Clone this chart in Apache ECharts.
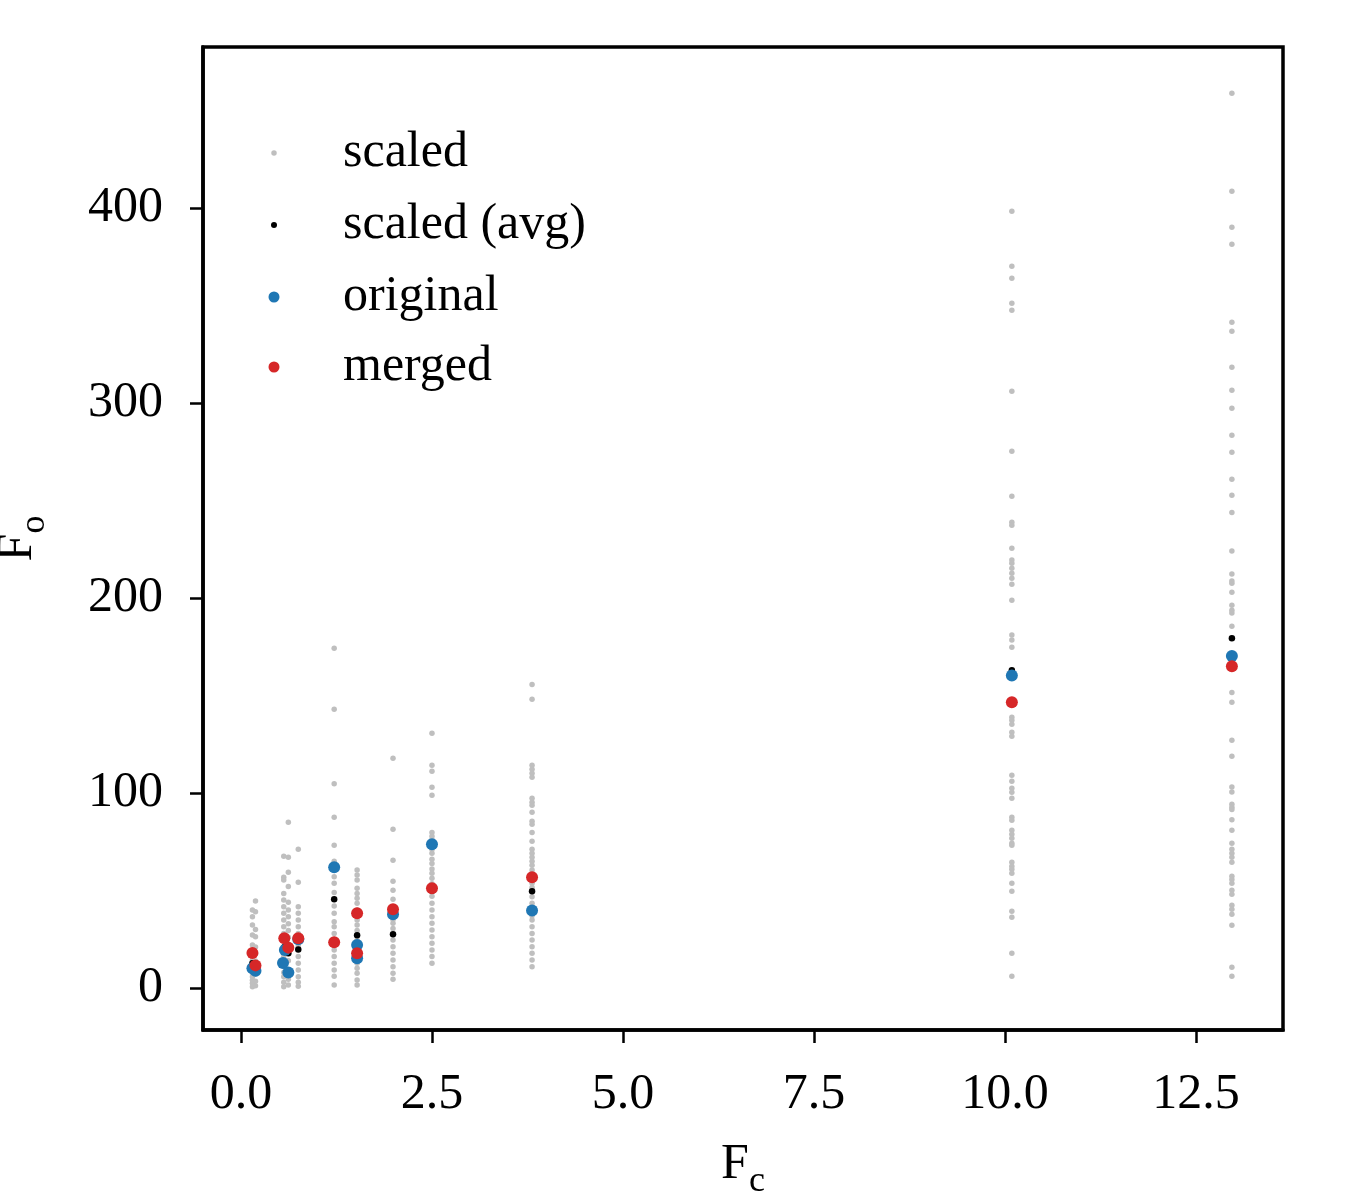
<!DOCTYPE html>
<html>
<head>
<meta charset="utf-8">
<title>Fo vs Fc</title>
<script src="https://cdn.jsdelivr.net/npm/echarts@6/dist/echarts.min.js"></script>
<style>
  html, body { margin: 0; padding: 0; background: #fff; }
  #chart { width: 1350px; height: 1200px; }
</style>
</head>
<body>
<div id="chart"></div>
<script>
// ---- data ----
// scaled: one Fc value per column, Fo values of that column
const scaledFc = [0.15, 0.19, 0.56, 0.62, 0.75, 1.22, 1.52, 1.99, 2.50, 3.81, 10.09, 12.97];
const scaledFo = [
    [40.0, 36.6, 32.3, 27.2, 22.1, 19.5, 16.1, 12.7, 9.2, 5.8, 2.4, 0.7, 14.5, 7.5, 4.0],
    [44.6, 39.1, 30.0, 26.3, 21.0, 17.5, 13.8, 10.5, 7.0, 3.5, 1.2],
    [67.5, 56.8, 55.4, 48.5, 45.1, 41.7, 38.3, 34.9, 31.4, 28.0, 24.6, 21.2, 19.0, 16.1, 13.0, 10.9, 8.0, 5.8, 3.0, 0.7],
    [85.0, 67.0, 59.3, 52.0, 44.0, 40.0, 36.5, 33.0, 29.5, 26.0, 22.5, 18.5, 14.0, 9.5, 4.5, 1.5],
    [71.1, 54.2, 41.7, 38.3, 34.9, 31.4, 28.0, 24.0, 21.5, 16.1, 12.7, 9.2, 5.8, 3.0, 0.9],
    [174.2, 142.9, 104.8, 87.5, 73.2, 65.0, 57.1, 53.7, 49.0, 42.0, 38.3, 34.0, 31.4, 28.0, 25.0, 19.5, 16.1, 12.7, 9.2, 6.0, 1.5],
    [60.5, 57.9, 55.4, 51.1, 48.5, 46.0, 43.4, 40.0, 34.9, 32.3, 29.5, 24.5, 20.0, 12.7, 10.1, 7.5, 4.1, 1.5],
    [117.8, 81.4, 65.5, 54.7, 50.1, 45.5, 41.4, 35.0, 33.2, 30.5, 24.6, 21.2, 17.8, 14.4, 10.9, 7.5, 4.5],
    [130.6, 114.2, 111.1, 102.9, 98.8, 79.8, 77.8, 76.0, 71.0, 69.1, 66.0, 63.9, 61.0, 58.8, 56.3, 53.5, 47.0, 43.4, 40.0, 36.6, 33.2, 29.7, 26.3, 22.9, 19.5, 16.1, 12.7],
    [155.7, 148.1, 114.2, 112.2, 110.1, 108.1, 97.3, 95.2, 93.7, 90.1, 85.5, 84.0, 79.8, 75.2, 71.1, 69.1, 67.0, 65.0, 62.9, 60.5, 58.5, 53.7, 51.5, 46.8, 43.4, 37.0, 34.9, 31.4, 28.0, 24.6, 21.2, 17.8, 14.4, 10.9],
    [398.3, 370.1, 364.0, 351.1, 347.5, 306.0, 275.2, 252.2, 238.8, 237.3, 225.5, 219.5, 217.8, 215.2, 212.7, 210.1, 207.0, 198.9, 181.0, 178.5, 174.7, 138.8, 137.3, 135.2, 131.1, 129.1, 109.1, 106.0, 102.4, 100.4, 97.3, 87.5, 86.0, 80.9, 78.8, 76.8, 74.2, 73.2, 64.5, 62.4, 60.9, 58.8, 53.7, 49.6, 39.3, 36.3, 17.8, 6.0],
    [458.8, 408.6, 390.1, 381.4, 341.4, 336.8, 318.3, 306.5, 297.3, 283.4, 274.7, 260.9, 252.7, 243.9, 224.1, 212.3, 208.7, 207.5, 202.9, 196.3, 193.7, 192.3, 185.5, 151.6, 146.5, 127.0, 118.8, 103.1, 100.5, 94.2, 92.7, 91.6, 86.3, 80.9, 74.2, 71.1, 69.1, 67.0, 64.5, 57.3, 55.7, 53.7, 50.1, 48.1, 42.4, 40.4, 37.8, 32.2, 10.6, 6.0]
];

const avgFc = [0.15, 0.19, 0.57, 0.62, 0.75, 1.22, 1.52, 1.99, 2.50, 3.81, 10.09, 12.97];
const avgFo = [12.7, 11.0, 21.0, 17.8, 19.8, 45.5, 27.0, 27.5, 49.9, 49.6, 163.0, 179.3];

const origFc = [0.15, 0.19, 0.55, 0.575, 0.62, 0.75, 1.22, 1.52, 1.52, 1.99, 2.50, 3.81, 10.09, 12.97];
const origFo = [10.1, 8.9, 12.8, 19.5, 8.0, 25.0, 61.9, 22.1, 15.2, 37.8, 73.7, 39.8, 160.2, 170.3];

const mergFc = [0.15, 0.19, 0.567, 0.62, 0.75, 1.22, 1.52, 1.52, 1.99, 2.50, 3.81, 10.09, 12.97];
const mergFo = [17.9, 11.6, 25.5, 20.7, 25.5, 23.4, 38.3, 17.8, 40.4, 51.1, 56.8, 146.5, 165.0];

const xTicks = [0, 2.5, 5, 7.5, 10, 12.5];
const yTicks = [0, 100, 200, 300, 400];

const seriesNames = ['scaled', 'scaled (avg)', 'original', 'merged'];
const seriesColors = ['#bfbfbf', '#000000', '#1f77b4', '#d62728'];

// ---- build ----
const FONT = '"Liberation Serif", "DejaVu Serif", serif';

function pairs(xs, ys) {
    return xs.map((x, i) => [x, ys[i]]);
}

let scaledData = [];
scaledFc.forEach((x, i) => {
    scaledFo[i].forEach(v => scaledData.push([x, v]));
});

const seriesData = [scaledData, pairs(avgFc, avgFo), pairs(origFc, origFo), pairs(mergFc, mergFo)];
const symbolSizes = [5.5, 6.5, 12, 12];
const legendIconSizes = [5.5, 6, 11, 11];
const legendCenters = [152, 224, 296, 366];
const legendIconX = 274;   // centre of the legend marker
const legendTextX = 343;   // left edge of the legend text

const chart = echarts.init(document.getElementById('chart'), null, { renderer: 'canvas' });

const axisText = { fontFamily: FONT, fontSize: 50, color: '#000' };

const option = {
    animation: false,
    backgroundColor: '#fff',
    grid: {
        left: 203, right: 67, top: 47, bottom: 170,
        show: true, borderColor: '#000', borderWidth: 3.5,
        containLabel: false,
        outerBoundsMode: 'none'
    },
    legend: seriesNames.map((name, i) => {
        const s = legendIconSizes[i];
        const left = legendIconX - s / 2;
        return {
            data: [name],
            left: left,
            top: legendCenters[i] - 24,
            padding: 0,
            icon: 'circle',
            itemWidth: s,
            itemHeight: s,
            selectedMode: false,
            textStyle: {
                fontFamily: FONT, fontSize: 50, lineHeight: 48, color: '#000',
                padding: [0, 0, 0, legendTextX - (left + s + 5)]
            }
        };
    }),
    xAxis: {
        type: 'value',
        min: -0.497,
        max: 13.639,
        name: 'F{s|c}',
        nameLocation: 'middle',
        nameGap: 100,
        nameTextStyle: {
            fontFamily: FONT, fontSize: 50, color: '#000',
            rich: { s: { fontFamily: FONT, fontSize: 36, verticalAlign: 'bottom', lineHeight: 70 } }
        },
        splitLine: { show: false },
        axisLine: { show: true, onZero: false, lineStyle: { color: '#000', width: 3.5 } },
        axisTick: { show: true, length: 13, lineStyle: { color: '#000', width: 2.5 }, customValues: xTicks },
        axisLabel: Object.assign({ margin: 40, customValues: xTicks, formatter: v => v.toFixed(1) }, axisText)
    },
    yAxis: {
        type: 'value',
        min: -21.54,
        max: 482.56,
        name: 'F{s|o}',
        nameLocation: 'middle',
        nameGap: 150,
        nameTextStyle: {
            fontFamily: FONT, fontSize: 50, color: '#000',
            rich: { s: { fontFamily: FONT, fontSize: 36, verticalAlign: 'bottom', lineHeight: 70 } }
        },
        splitLine: { show: false },
        axisLine: { show: true, onZero: false, lineStyle: { color: '#000', width: 3.5 } },
        axisTick: { show: true, length: 13, lineStyle: { color: '#000', width: 2.5 }, customValues: yTicks },
        axisLabel: Object.assign({ margin: 40, customValues: yTicks, formatter: v => String(v) }, axisText)
    },
    series: seriesNames.map((name, i) => ({
        name: name,
        type: 'scatter',
        data: seriesData[i],
        symbol: 'circle',
        symbolSize: symbolSizes[i],
        itemStyle: { color: seriesColors[i], opacity: 1 },
        emphasis: { disabled: true }
    }))
};

chart.setOption(option);
</script>
</body>
</html>
